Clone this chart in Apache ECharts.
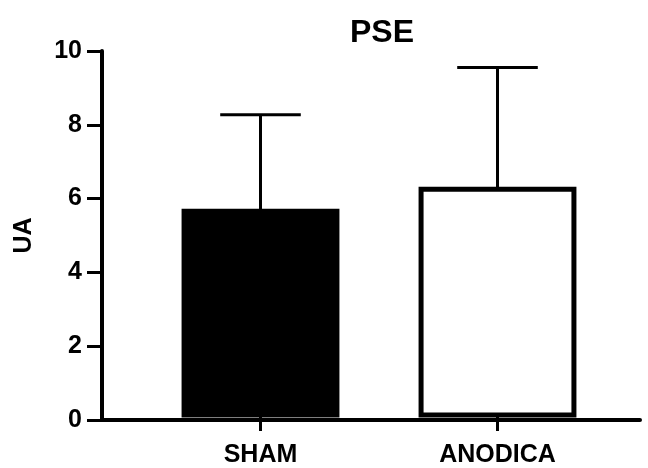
<!DOCTYPE html>
<html>
<head>
<meta charset="utf-8">
<script src="https://cdn.jsdelivr.net/npm/echarts@6/dist/echarts.min.js"></script>
<style>
  html, body { margin: 0; padding: 0; background: #fff; }
  #main { width: 648px; height: 468px; }
</style>
</head>
<body>
<div id="main"></div>
<script>
// groups and values (mean + upper SD)
const groups = ['SHAM', 'ANODICA'];
const means = [5.6, 6.2];
const sds = [2.65, 3.35];
const fills = ['#000000', '#ffffff'];
const yTicks = [0, 2, 4, 6, 8, 10];

const font = '"Liberation Sans", Arial, sans-serif';
const chart = echarts.init(document.getElementById('main'));

const barData = groups.map((g, i) => [i, means[i]]);
const errData = groups.map((g, i) => [i, means[i], means[i] + sds[i]]);

const option = {
  backgroundColor: '#fff',
  animation: false,
  title: {
    text: 'PSE',
    left: 345,
    top: 12,
    textStyle: { fontFamily: font, fontWeight: 'bold', fontSize: 32, color: '#000' }
  },
  grid: [
    // axis frame: y axis at x=102, baseline runs to the right edge
    { left: 102, right: 8, top: 51, bottom: 48 },
    // plotting band for the two bars
    { left: 142, right: 32, top: 51, bottom: 48 }
  ],
  xAxis: [
    {
      gridIndex: 0, type: 'value', min: 0, max: 1, z: 10,
      axisLine: { show: true, lineStyle: { color: '#000', width: 4 } },
      axisTick: { show: false }, axisLabel: { show: false }, splitLine: { show: false }
    },
    {
      gridIndex: 1, type: 'category', data: groups,
      axisLine: { show: false },
      axisTick: { show: true, alignWithLabel: true, length: 16, lineStyle: { color: '#000', width: 3 } },
      axisLabel: { margin: 28, color: '#000', fontFamily: font, fontWeight: 'bold', fontSize: 25 }
    }
  ],
  yAxis: [
    {
      gridIndex: 0, type: 'value', min: yTicks[0], max: yTicks[yTicks.length - 1], interval: 2,
      name: 'UA', nameLocation: 'middle', nameGap: 65,
      nameTextStyle: { color: '#000', fontFamily: font, fontWeight: 'bold', fontSize: 25 },
      axisLine: { show: true, lineStyle: { color: '#000', width: 4 } },
      axisTick: { show: true, length: 15, lineStyle: { color: '#000', width: 3 } },
      axisLabel: { margin: 20, color: '#000', fontFamily: font, fontWeight: 'bold', fontSize: 25 },
      splitLine: { show: false }
    },
    {
      gridIndex: 1, type: 'value', min: 0, max: 10, show: false
    }
  ],
  series: [
    {
      // error bars (upper SD only)
      type: 'custom',
      xAxisIndex: 1, yAxisIndex: 1,
      z: 1,
      data: errData,
      renderItem: function (params, api) {
        const x = api.value(0);
        const lo = api.coord([x, api.value(1)]);
        const hi = api.coord([x, api.value(2)]);
        const half = api.size([1, 0])[0] * 0.17;
        const style = { stroke: '#000', lineWidth: 3 };
        return {
          type: 'group',
          children: [
            { type: 'line', shape: { x1: lo[0], y1: lo[1], x2: hi[0], y2: hi[1] }, style: style },
            { type: 'line', shape: { x1: hi[0] - half, y1: hi[1], x2: hi[0] + half, y2: hi[1] }, style: style }
          ]
        };
      }
    },
    {
      // bars, outline centred on the edges so the bottom edge hides under the baseline
      type: 'custom',
      xAxisIndex: 1, yAxisIndex: 1,
      z: 2,
      data: barData,
      renderItem: function (params, api) {
        const x = api.value(0);
        const base = api.coord([x, 0]);
        const top = api.coord([x, api.value(1)]);
        const w = api.size([1, 0])[0] * 0.645;
        return {
          type: 'rect',
          shape: { x: base[0] - w / 2, y: top[1], width: w, height: base[1] - top[1] },
          style: { fill: fills[params.dataIndex], stroke: '#000', lineWidth: 5 }
        };
      }
    }
  ]
};

chart.setOption(option);
</script>
</body>
</html>
